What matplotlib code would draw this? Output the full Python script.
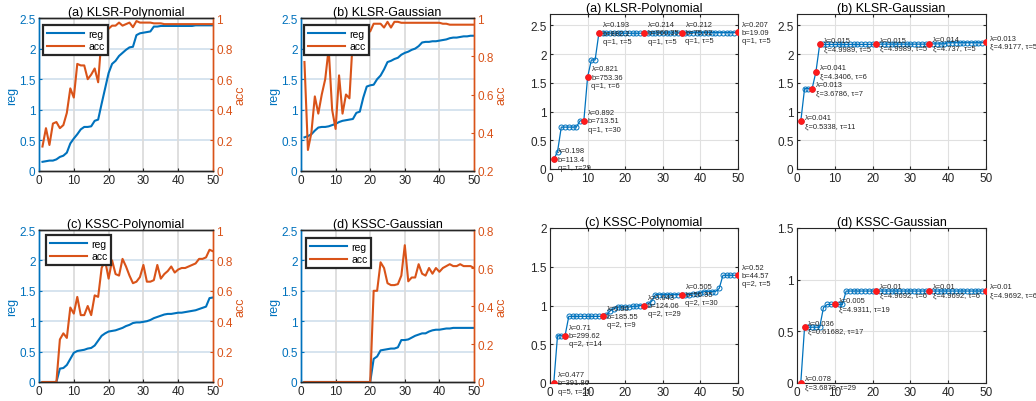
import matplotlib
matplotlib.use("Agg")
import matplotlib.pyplot as plt
import numpy as np
from matplotlib.ticker import FuncFormatter

plt.rcParams['font.family'] = ['Liberation Sans', 'DejaVu Sans']

BLUE = '#0072BD'
ORANGE = '#D95319'

x = np.arange(1, 51)

# left column: reg / acc curves
reg_a = [0.15, 0.16, 0.17, 0.17, 0.19, 0.23, 0.25, 0.30, 0.45, 0.53,
         0.60, 0.68, 0.72, 0.72, 0.73, 0.82, 0.84, 1.10, 1.35, 1.60,
         1.75, 1.80, 1.88, 1.93, 1.98, 2.02, 2.03, 2.22, 2.25, 2.26,
         2.27, 2.28, 2.36, 2.36, 2.37, 2.37, 2.37, 2.37, 2.37, 2.37,
         2.37, 2.37, 2.37, 2.37, 2.38, 2.38, 2.38, 2.38, 2.38, 2.38]
acc_a = [0.16, 0.28, 0.17, 0.31, 0.32, 0.28, 0.30, 0.38, 0.54, 0.48,
         0.70, 0.69, 0.69, 0.60, 0.63, 0.67, 0.58, 0.88, 0.90, 0.93,
         0.95, 0.95, 0.97, 0.95, 0.96, 0.97, 0.94, 0.98, 0.97, 0.97,
         0.97, 0.97, 0.965, 0.965, 0.965, 0.96, 0.96, 0.96, 0.96, 0.96,
         0.96, 0.96, 0.96, 0.96, 0.96, 0.96, 0.96, 0.96, 0.96, 0.96]

reg_b = [0.55, 0.57, 0.60, 0.66, 0.71, 0.72, 0.72, 0.73, 0.75, 0.77,
         0.80, 0.82, 0.83, 0.84, 0.85, 0.95, 0.97, 1.20, 1.38, 1.40,
         1.41, 1.50, 1.56, 1.66, 1.78, 1.80, 1.83, 1.85, 1.90, 1.93,
         1.95, 1.98, 2.00, 2.04, 2.10, 2.11, 2.11, 2.12, 2.12, 2.13,
         2.14, 2.15, 2.17, 2.18, 2.18, 2.19, 2.20, 2.20, 2.21, 2.21]
acc_b = [0.77, 0.31, 0.40, 0.59, 0.50, 0.60, 0.68, 0.84, 0.52, 0.42,
         0.70, 0.50, 0.60, 0.58, 0.90, 0.93, 0.93, 0.93, 0.93, 0.93,
         0.97, 0.97, 0.97, 0.95, 0.98, 0.95, 0.98, 0.98, 0.975, 0.975,
         0.975, 0.975, 0.975, 0.975, 0.975, 0.975, 0.975, 0.975, 0.975, 0.975,
         0.97, 0.97, 0.965, 0.965, 0.965, 0.965, 0.965, 0.965, 0.965, 0.965]

reg_c = [0, 0, 0, 0, 0, 0.22, 0.23, 0.28, 0.38, 0.48,
         0.51, 0.52, 0.53, 0.55, 0.56, 0.60, 0.68, 0.76, 0.80, 0.83,
         0.84, 0.85, 0.87, 0.89, 0.92, 0.94, 0.97, 0.98, 0.98, 0.99,
         1.00, 1.02, 1.05, 1.07, 1.09, 1.11, 1.12, 1.12, 1.13, 1.14,
         1.14, 1.15, 1.16, 1.17, 1.18, 1.20, 1.22, 1.24, 1.38, 1.39]
acc_c = [0, 0, 0, 0, 0, 0.28, 0.32, 0.29, 0.49, 0.45,
         0.56, 0.44, 0.44, 0.50, 0.44, 0.57, 0.56, 0.75, 0.80, 0.68,
         0.80, 0.71, 0.70, 0.81, 0.76, 0.70, 0.65, 0.66, 0.69, 0.77,
         0.66, 0.66, 0.67, 0.77, 0.68, 0.71, 0.73, 0.76, 0.72, 0.74,
         0.75, 0.75, 0.76, 0.77, 0.78, 0.81, 0.81, 0.82, 0.87, 0.86]

reg_d = [0] * 20 + [0.38, 0.42, 0.52, 0.53, 0.54, 0.55, 0.55, 0.57, 0.69, 0.69,
                    0.70, 0.73, 0.76, 0.78, 0.80, 0.80, 0.83, 0.85, 0.86, 0.86,
                    0.87, 0.88, 0.88, 0.89, 0.89, 0.89, 0.89, 0.89, 0.89, 0.89]
acc_d = [0] * 20 + [0.48, 0.48, 0.63, 0.60, 0.52, 0.51, 0.51, 0.515, 0.56, 0.72,
                    0.53, 0.55, 0.55, 0.62, 0.57, 0.56, 0.60, 0.57, 0.60, 0.58,
                    0.60, 0.61, 0.62, 0.61, 0.61, 0.62, 0.61, 0.61, 0.61, 0.60]

# right column: step curves with highlighted points
step_a = [0.17, 0.30] + [0.73] * 5 + [0.84] * 2 + [1.60] + [1.90] * 2 + \
         [2.365] * 12 + [2.37] * 10 + [2.375] * 15 + [2.38]
mark_a = [1, 9, 10, 13, 25, 35, 50]
text_a = ["λ=0.198\nb=113.4\nq=1, τ=29", "λ=0.892\nb=713.51\nq=1, τ=30",
          "λ=0.821\nb=753.36\nq=1, τ=6", "λ=0.193\nb=882.2\nq=1, τ=5",
          "λ=0.214\nb=960.35\nq=1, τ=5", "λ=0.212\nb=75.02\nq=1, τ=5",
          "λ=0.207\nb=19.09\nq=1, τ=5"]

step_b = [0.83] + [1.40] * 3 + [1.69] + [2.17] * 15 + [2.175] * 14 + \
         [2.18] * 5 + [2.20] * 10 + [2.21]
mark_b = [1, 4, 5, 6, 21, 35, 50]
text_b = ["λ=0.041\nξ=0.5338, τ=11", "λ=0.013\nξ=3.6786, τ=7",
          "λ=0.041\nξ=4.3406, τ=6", "λ=0.015\nξ=4.9989, τ=5",
          "λ=0.015\nξ=4.9989, τ=5", "λ=0.014\nξ=4.737, τ=5",
          "λ=0.013\nξ=4.9177, τ=5"]

step_c = [0.0] + [0.61] * 3 + [0.86] * 10 + \
         [0.88, 0.93, 0.96, 0.98, 0.98, 0.98, 0.98, 0.99, 0.99, 1.00, 1.00, 1.02, 1.05] + \
         [1.14] * 10 + [1.15, 1.15, 1.16] + [1.18] * 4 + [1.22] + [1.39] * 5
mark_c = [1, 4, 14, 25, 35, 50]
text_c = ["λ=0.477\nb=391.86\nq=5, τ=25", "λ=0.71\nb=299.62\nq=2, τ=14",
          "λ=0.90\nb=185.55\nq=2, τ=9", "λ=0.643\nb=124.06\nq=2, τ=29",
          "λ=0.505\nb=56.95\nq=2, τ=30", "λ=0.52\nb=44.57\nq=2, τ=5"]

step_d = [0.0] + [0.54] * 5 + [0.73] + [0.76] * 5 + [0.89] * 38
mark_d = [1, 2, 10, 21, 35, 50]
text_d = ["λ=0.078\nξ=3.6873, τ=29", "λ=0.036\nξ=0.61682, τ=17",
          "λ=0.005\nξ=4.9311, τ=19", "λ=0.01\nξ=4.9692, τ=6",
          "λ=0.01\nξ=4.9692, τ=6", "λ=0.01\nξ=4.9692, τ=6"]

W, H = 1036, 402
fig = plt.figure(figsize=(W / 100, H / 100), dpi=100)


def box(l, t, r, b):
    return [l / W, 1 - b / H, (r - l) / W, (b - t) / H]


gfmt = FuncFormatter(lambda v, p: f"{v:g}")


def left_panel(rect, reg, acc, acc_lim, acc_ticks, title, leg):
    ax = fig.add_axes(rect)
    ax2 = ax.twinx()
    l1, = ax.plot(x, reg, color=BLUE, lw=1.5)
    l2, = ax2.plot(x, acc, color=ORANGE, lw=1.5)
    ax.set_xlim(0, 50)
    ax.set_ylim(0, 2.5)
    ax2.set_ylim(*acc_lim)
    ax.set_xticks(range(0, 51, 10))
    ax.set_yticks(np.arange(0, 2.51, 0.5))
    ax2.set_yticks(acc_ticks)
    ax.yaxis.set_major_formatter(gfmt)
    ax2.yaxis.set_major_formatter(gfmt)
    for yy in np.arange(0.5, 2.5, 0.5):
        ax.axhline(yy, color='#d3e2ee', lw=1.3, zorder=0)
    for xx in range(10, 50, 10):
        ax.axvline(xx, color='#dcdcdc', lw=1.3, zorder=0)
    ax.tick_params(axis='x', direction='in', labelsize=8.5, colors='#262626', length=2.5, pad=2.5)
    ax.tick_params(axis='y', direction='in', labelsize=8.5, colors=BLUE, length=2.5, pad=2.5)
    ax2.tick_params(axis='y', direction='in', labelsize=8.5, colors=ORANGE, length=2.5, pad=2.5)
    ax.set_ylabel('reg', color=BLUE, fontsize=9, labelpad=1)
    ax2.set_ylabel('acc', color=ORANGE, fontsize=9, labelpad=1)
    ax.set_title(title, fontsize=9, pad=2)
    for a in (ax, ax2):
        a.spines['left'].set_color(BLUE)
        a.spines['right'].set_color(ORANGE)
        a.spines['top'].set_color('#262626')
        a.spines['bottom'].set_color('#262626')
        for s in a.spines.values():
            s.set_linewidth(1.0)
    lg = ax2.legend([l1, l2], ['reg', 'acc'], loc='upper left',
                    bbox_to_anchor=(leg[0] / W, 1 - leg[1] / H),
                    bbox_transform=fig.transFigure, borderaxespad=0,
                    fontsize=7.5, fancybox=False, framealpha=1,
                    handlelength=3.6, handletextpad=0.4, borderpad=0.35,
                    labelspacing=0.25)
    lg.get_frame().set_edgecolor('#262626')
    lg.get_frame().set_linewidth(1.6)


def right_panel(rect, step, marks, texts, ymax, yticks, title):
    ax = fig.add_axes(rect)
    ax.plot(x, step, color=BLUE, lw=0.9, marker='o', ms=3.6,
            mfc='none', mew=0.7, zorder=2)
    mx = [x[i - 1] for i in marks]
    my = [step[i - 1] for i in marks]
    ax.plot(mx, my, 'o', color='#ff1a1a', ms=3.8, zorder=3)
    for xi, yi, t in zip(mx, my, texts):
        ax.annotate(t, (xi, yi), xytext=(2.8, 0), textcoords='offset points',
                    ha='left', va='center', fontsize=5.4, color='#262626',
                    linespacing=1.25, annotation_clip=False, zorder=4)
    ax.set_xlim(0, 50)
    ax.set_ylim(0, ymax)
    ax.set_xticks(range(0, 51, 10))
    ax.set_yticks(yticks)
    ax.yaxis.set_major_formatter(gfmt)
    ax.grid(True, color='#e0e0e0', lw=0.8)
    ax.set_axisbelow(True)
    ax.tick_params(direction='in', labelsize=8.5, colors='#262626', length=2.5,
                   top=True, right=True, pad=2.5)
    for s in ax.spines.values():
        s.set_color('#262626')
        s.set_linewidth(0.8)
    ax.set_title(title, fontsize=9, pad=2)


left_panel(box(39, 19, 213, 172), reg_a, acc_a, (0, 1), np.arange(0, 1.01, 0.2),
           '(a) KLSR-Polynomial', (43, 26))
left_panel(box(301, 19, 474, 172), reg_b, acc_b, (0.2, 1), np.arange(0.2, 1.01, 0.2),
           '(b) KLSR-Gaussian', (304, 26))
left_panel(box(39, 231, 213, 383), reg_c, acc_c, (0, 1), np.arange(0, 1.01, 0.2),
           '(c) KSSC-Polynomial', (46, 236))
left_panel(box(301, 231, 474, 383), reg_d, acc_d, (0, 0.8), np.arange(0, 0.81, 0.2),
           '(d) KSSC-Gaussian', (306, 239))

right_panel(box(550, 15, 738, 170), step_a, mark_a, text_a, 2.7,
            np.arange(0, 2.51, 0.5), '(a) KLSR-Polynomial')
right_panel(box(797, 15, 986, 170), step_b, mark_b, text_b, 2.7,
            np.arange(0, 2.51, 0.5), '(b) KLSR-Gaussian')
right_panel(box(550, 229, 738, 384), step_c, mark_c, text_c, 2,
            np.arange(0, 2.01, 0.5), '(c) KSSC-Polynomial')
right_panel(box(797, 229, 986, 384), step_d, mark_d, text_d, 1.5,
            np.arange(0, 1.51, 0.5), '(d) KSSC-Gaussian')

fig.savefig('out.png', dpi=100)
